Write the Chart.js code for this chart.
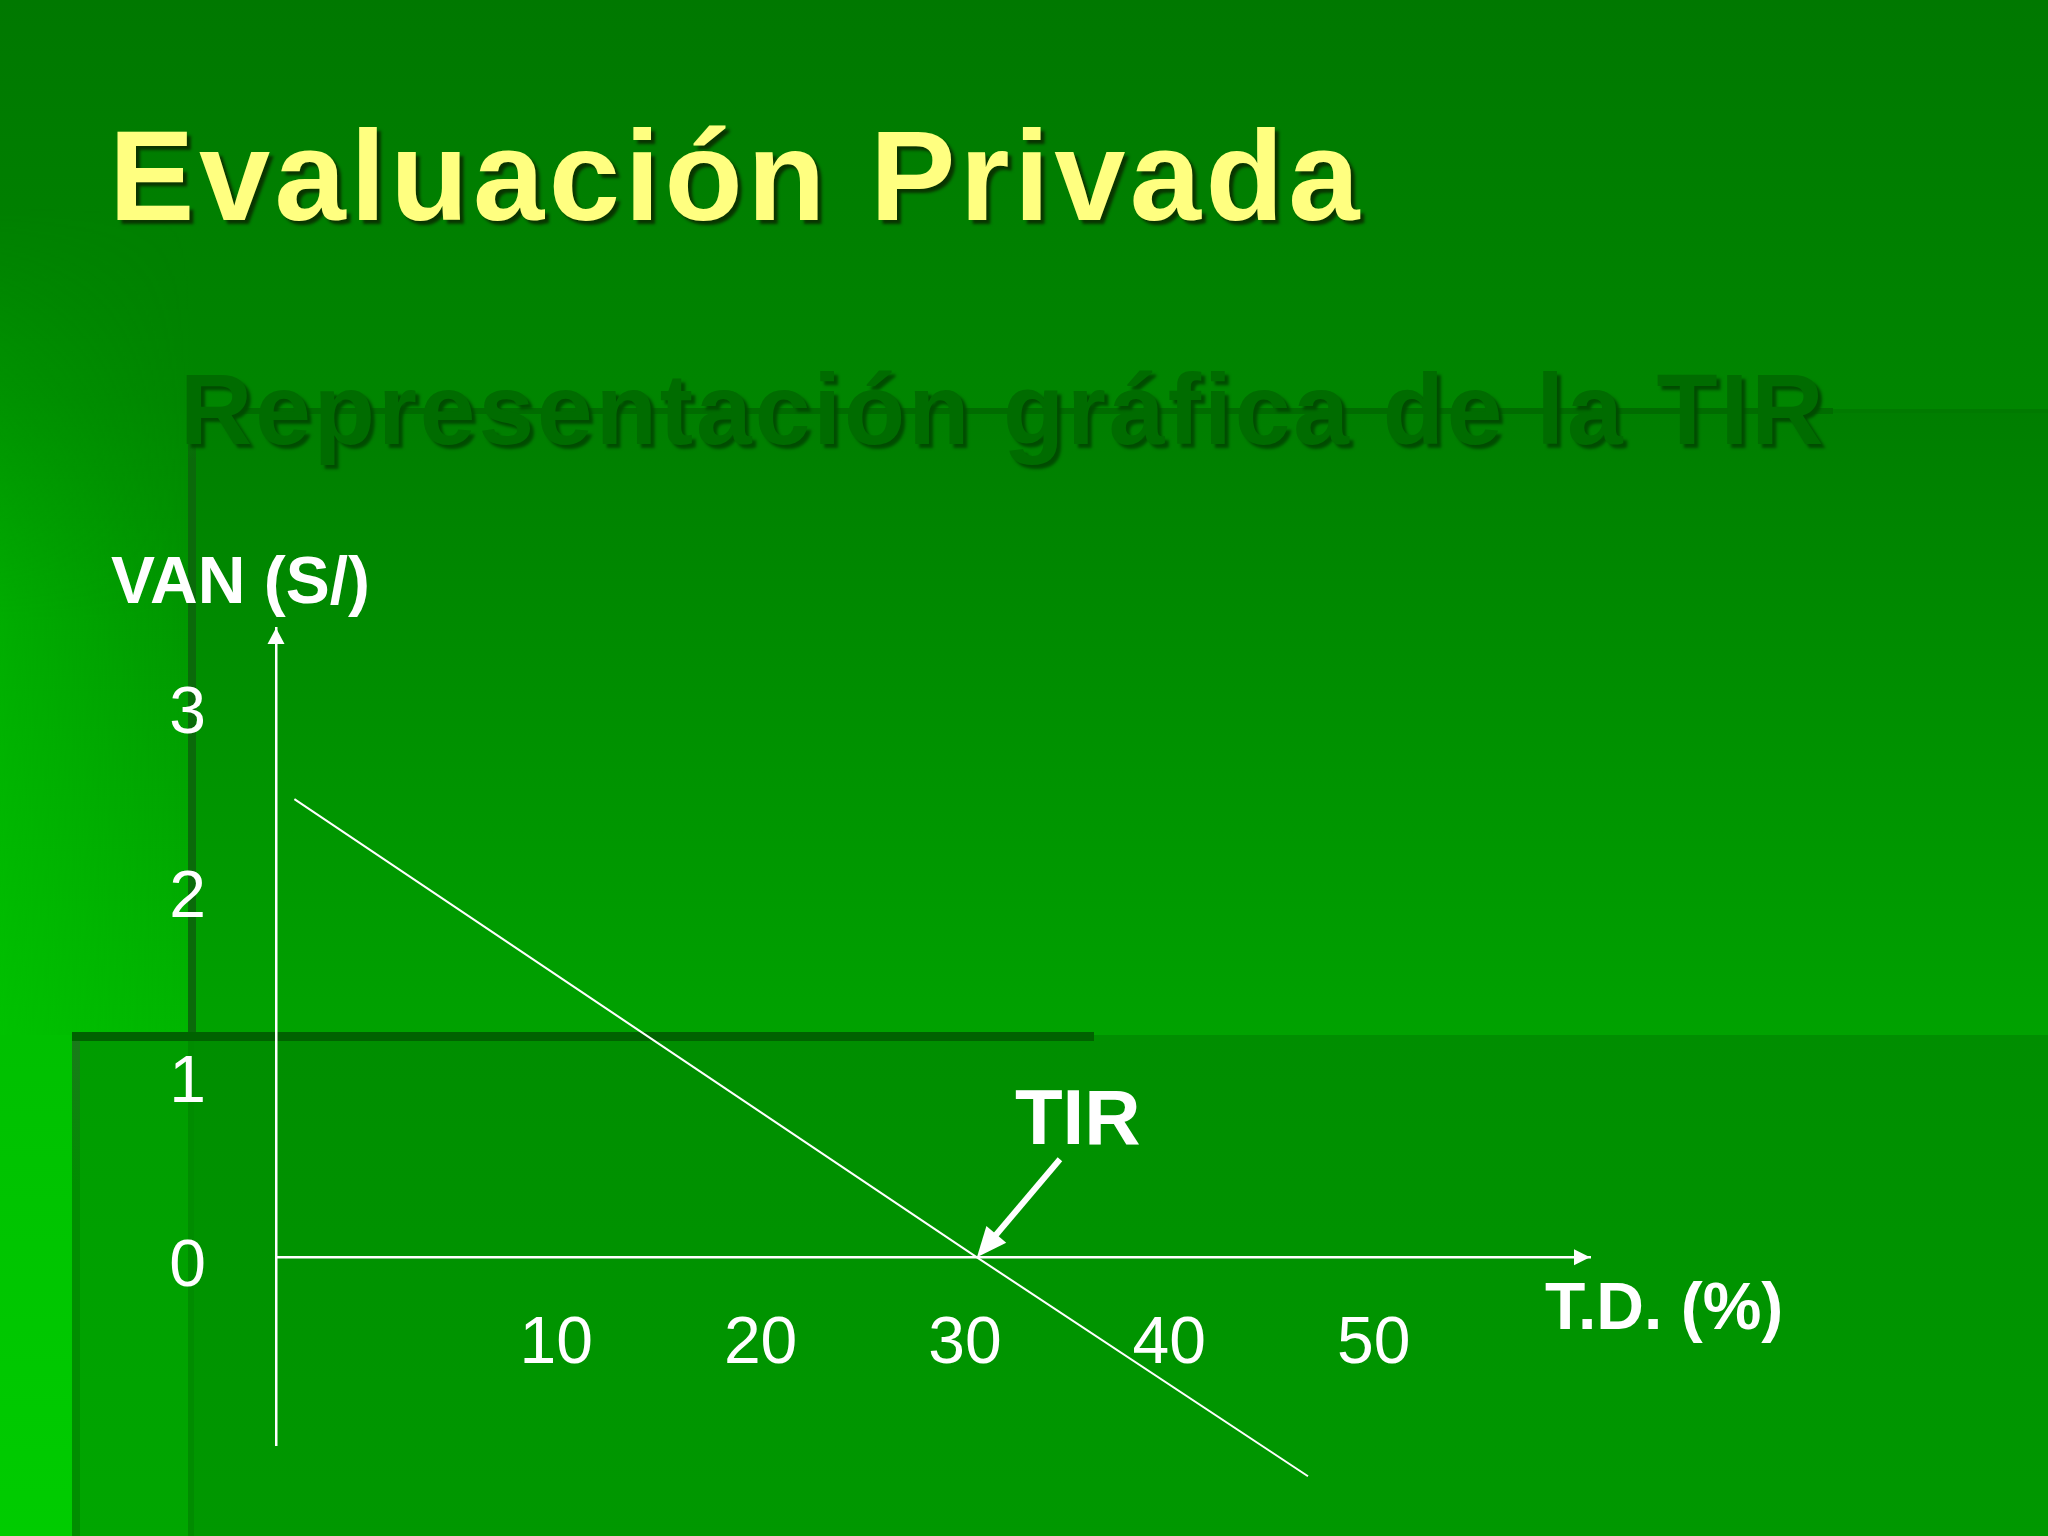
<!DOCTYPE html>
<html>
<head>
<meta charset="utf-8">
<script src="https://cdn.jsdelivr.net/npm/chart.js@4.4.1/dist/chart.umd.min.js"></script>
<style>
html,body{margin:0;padding:0;width:2048px;height:1536px;overflow:hidden;background:#008800;}
.b{position:absolute;}
#topband{left:193px;top:0;width:1855px;height:410px;background:linear-gradient(to bottom,#007800,#008600);}
#leftcol{left:0;top:0;width:193px;height:1035px;background:linear-gradient(to bottom,#007800 0%,#008600 39%,#00b600 100%);}
#leftcol2{left:0;top:0;width:193px;height:1035px;background:linear-gradient(to right,rgba(0,215,0,0.35),rgba(0,215,0,0));-webkit-mask-image:linear-gradient(to bottom,transparent 20%,black 60%);mask-image:linear-gradient(to bottom,transparent 20%,black 60%);}
#areaA{left:193px;top:410px;width:1855px;height:625px;background:linear-gradient(to bottom,#007e00,#00a200);}
#vline{left:188px;top:410px;width:8px;height:628px;background:linear-gradient(to bottom,rgba(0,100,0,0.2),#0a6a0a 8%,#0a6a0a);}
#hsub{left:193px;top:408px;width:1640px;height:6px;background:#006c00;}
#hsub2{left:1833px;top:409px;width:215px;height:4px;background:#007a00;}
#areaB{left:72px;top:1035px;width:1976px;height:501px;background:linear-gradient(to bottom,#008e00,#009800);}
#areaB2{left:80px;top:1035px;width:108px;height:501px;background:linear-gradient(to bottom,#009c00,#00a600);}
#areaB3{left:188px;top:1035px;width:6px;height:501px;background:#008c00;}
#leftstrip{left:0;top:1035px;width:72px;height:501px;background:linear-gradient(to bottom,#00c000,#00cc00);}
#lstripline{left:72px;top:1035px;width:8px;height:501px;background:linear-gradient(to bottom,#1a7a1a,#008e00 30%,#008e00);}
#hdark{left:72px;top:1032px;width:1022px;height:9px;background:#006200;}
#title{position:absolute;left:109px;top:112px;font-family:'Liberation Sans',Arial,sans-serif;font-weight:bold;font-size:128px;line-height:128px;color:#ffff80;letter-spacing:4.5px;white-space:nowrap;text-shadow:4px 4px 3px rgba(10,40,0,0.85);}
#subtitle{position:absolute;left:180px;top:359px;font-family:'Liberation Sans',Arial,sans-serif;font-weight:bold;font-size:100px;line-height:100px;color:#006c00;letter-spacing:3px;white-space:nowrap;text-shadow:4px 4px 3px #004c00;}
#wrap{position:absolute;left:0;top:0;width:2048px;height:1536px;}
</style>
</head>
<body>
<div class="b" id="leftcol"></div>
<div class="b" id="leftcol2"></div>
<div class="b" id="topband"></div>
<div class="b" id="areaA"></div>
<div class="b" id="vline"></div>
<div class="b" id="hsub"></div>
<div class="b" id="hsub2"></div>
<div class="b" id="areaB"></div>
<div class="b" id="areaB2"></div>
<div class="b" id="areaB3"></div>
<div class="b" id="leftstrip"></div>
<div class="b" id="lstripline"></div>
<div class="b" id="hdark"></div>
<div id="title">Evaluación Privada</div>
<div id="subtitle">Representación gráfica de la TIR</div>
<div id="wrap"><canvas id="c" width="2048" height="1536"></canvas></div>
<script>
// ---- data ----
const tasaDescuento = [-3.4, 30, 46.2];   // T.D. (%)
const van = [2.49, 0, -1.19];             // VAN (S/)
const xTickValues = [10, 20, 30, 40, 50];
const yTickValues = [0, 1, 2, 3];
const tir = 30;
const xTitle = 'T.D. (%)';
const yTitle = 'VAN (S/)';
const tirLabel = 'TIR';

const X_MIN = -4.3, X_MAX = 60;
const Y_MIN = -1.02, Y_MAX = 3.42;
const FONT = "'Liberation Sans', Arial, sans-serif";

const points = tasaDescuento.map((v, i) => ({x: v, y: van[i]}));

const decor = {
  id: 'decor',
  afterDraw(chart) {
    const {ctx, chartArea, scales: {x, y}} = chart;
    const y0 = y.getPixelForValue(0);
    const xL = x.getPixelForValue(X_MIN);
    ctx.save();
    ctx.fillStyle = '#ffffff';
    ctx.strokeStyle = '#ffffff';
    // y axis arrow head
    ctx.beginPath();
    ctx.moveTo(xL, chartArea.top);
    ctx.lineTo(xL - 8.5, chartArea.top + 16);
    ctx.lineTo(xL + 8.5, chartArea.top + 16);
    ctx.closePath();
    ctx.fill();
    // x axis arrow head
    ctx.beginPath();
    ctx.moveTo(chartArea.right, y0);
    ctx.lineTo(chartArea.right - 16, y0 - 8);
    ctx.lineTo(chartArea.right - 16, y0 + 8);
    ctx.closePath();
    ctx.fill();
    // TIR pointer arrow
    const tx = x.getPixelForValue(tir), ty = y0;
    const sx = tx + 83, sy = ty - 98;
    const dx = tx - sx, dy = ty - sy, len = Math.hypot(dx, dy);
    const ux = dx / len, uy = dy / len, px = -uy, py = ux;
    const headL = 30, headW = 13;
    ctx.lineWidth = 6;
    ctx.lineCap = 'butt';
    ctx.beginPath();
    ctx.moveTo(sx, sy);
    ctx.lineTo(tx - ux * (headL - 4), ty - uy * (headL - 4));
    ctx.stroke();
    ctx.beginPath();
    ctx.moveTo(tx, ty);
    ctx.lineTo(tx - ux * headL + px * headW, ty - uy * headL + py * headW);
    ctx.lineTo(tx - ux * headL - px * headW, ty - uy * headL - py * headW);
    ctx.closePath();
    ctx.fill();
    // axis titles and annotation
    ctx.textBaseline = 'alphabetic';
    ctx.textAlign = 'left';
    ctx.font = 'bold 66px ' + FONT;
    ctx.fillText(yTitle, xL - 165, chartArea.top - 25);
    ctx.fillText(xTitle, chartArea.right - 45, y0 + 72);
    ctx.font = 'bold 78px ' + FONT;
    ctx.fillText(tirLabel, tx + 38, ty - 113);
    ctx.restore();
  }
};

new Chart(document.getElementById('c'), {
  type: 'scatter',
  data: {
    datasets: [{
      data: points,
      showLine: true,
      borderColor: '#ffffff',
      backgroundColor: '#ffffff',
      borderWidth: 2,
      pointRadius: 0,
      pointHoverRadius: 0,
      clip: false,
      tension: 0
    }]
  },
  options: {
    responsive: false,
    animation: false,
    events: [],
    layout: {padding: {left: 99, top: 628, right: 458, bottom: 91}},
    plugins: {legend: {display: false}, tooltip: {enabled: false}, title: {display: false}},
    scales: {
      x: {
        type: 'linear',
        position: {y: 0},
        min: X_MIN, max: X_MAX,
        bounds: 'data',
        afterBuildTicks: s => { s.ticks = xTickValues.map(v => ({value: v})); },
        afterFit: s => { s.paddingLeft = 0; s.paddingRight = 0; },
        grid: {display: false, drawTicks: false},
        border: {display: true, color: '#ffffff', width: 2.5},
        ticks: {color: '#ffffff', font: {family: FONT, size: 66}, padding: 48, labelOffset: -12,
                maxRotation: 0, autoSkip: false}
      },
      y: {
        type: 'linear',
        position: 'left',
        min: Y_MIN, max: Y_MAX,
        bounds: 'data',
        afterBuildTicks: s => { s.ticks = yTickValues.map(v => ({value: v})); },
        afterFit: s => { s.width = 177; s.paddingTop = 0; s.paddingBottom = 0; },
        grid: {display: false, drawTicks: false},
        border: {display: true, color: '#ffffff', width: 2.5},
        ticks: {color: '#ffffff', font: {family: FONT, size: 66}, padding: 70, labelOffset: 10,
                autoSkip: false}
      }
    }
  },
  plugins: [decor]
});
</script>
</body>
</html>
